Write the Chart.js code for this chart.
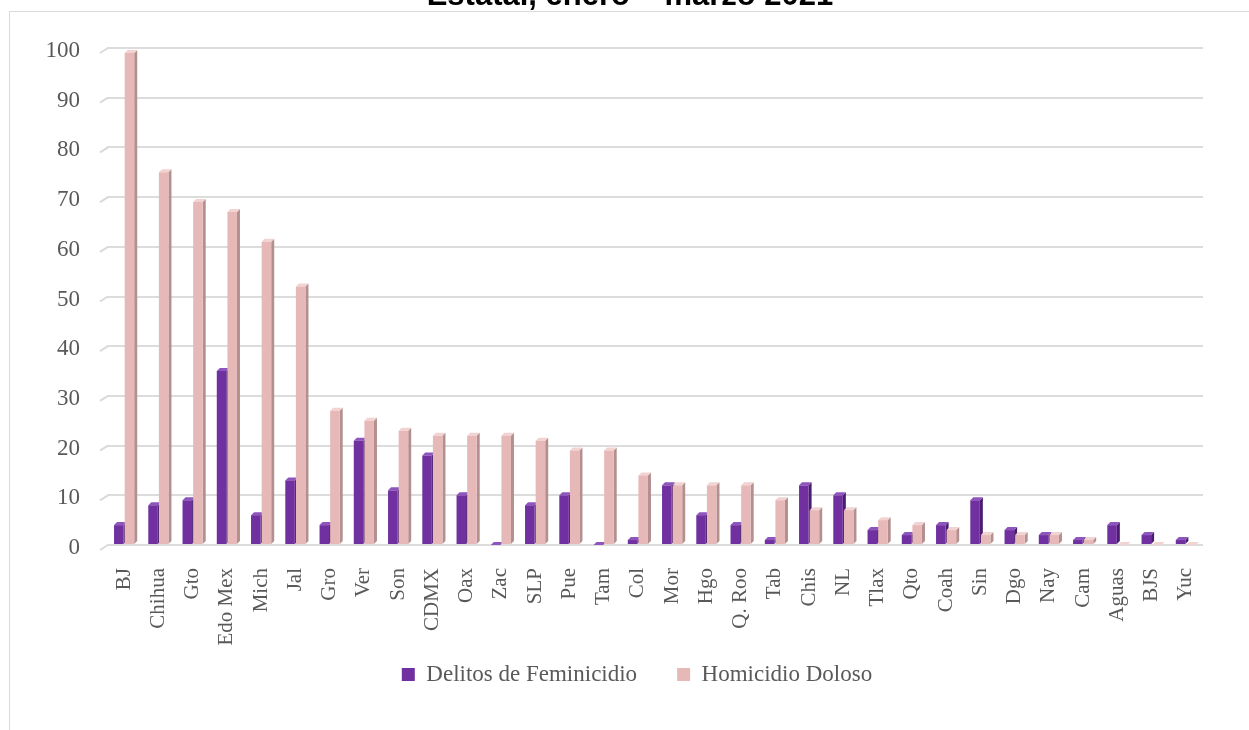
<!DOCTYPE html>
<html>
<head>
<meta charset="utf-8">
<script src="https://cdn.jsdelivr.net/npm/chart.js@4.4.1/dist/chart.umd.min.js"></script>
<style>
  html, body { margin: 0; padding: 0; background: #ffffff; overflow: hidden; }
  #wrap { position: relative; width: 1249px; height: 730px; }
  #frame { position: absolute; left: 9px; top: 11px; right: -5px; bottom: -5px;
           border-left: 1px solid #d9d9d9; border-top: 1px solid #d9d9d9; }
  #title { position: absolute; left: 0; top: -20px; width: 1260px; text-align: center;
           font: bold 31px "Liberation Sans", Arial, sans-serif; line-height: 30px; color: #000; }
  #c { position: absolute; left: 0; top: 0; }
</style>
</head>
<body>
<div id="wrap">
  <div id="frame"></div>
  <canvas id="c" width="1249" height="730"></canvas>
  <div id="title">Estatal, enero – marzo 2021</div>
</div>
<script>
const categories = ["BJ","Chihua","Gto","Edo Mex","Mich","Jal","Gro","Ver","Son","CDMX","Oax","Zac","SLP","Pue","Tam","Col","Mor","Hgo","Q. Roo","Tab","Chis","NL","Tlax","Qto","Coah","Sin","Dgo","Nay","Cam","Aguas","BJS","Yuc"];
const feminicidio = [4,8,9,35,6,13,4,21,11,18,10,0,8,10,0,1,12,6,4,1,12,10,3,2,4,9,3,2,1,4,2,1];
const homicidio = [99,75,69,67,61,52,27,25,23,22,22,22,21,19,19,14,12,12,12,9,7,7,5,4,3,2,2,2,1,0,0,0];
const yTicks = [0,10,20,30,40,50,60,70,80,90,100];
const seriesNames = ["Delitos de Feminicidio","Homicidio Doloso"];

const faceColors = [
  {side: "#4b1d70", top: "#8d55bd"},
  {side: "#b38f8e", top: "#f1d3d2"}
];

const bar3d = {
  id: "bar3d",
  beforeDatasetsDraw(chart) {
    const ctx = chart.ctx;
    const d = 3;
    const ys = chart.scales.y;
    const left = chart.chartArea.left;
    ctx.save();
    ctx.strokeStyle = "#d9d9d9";
    ctx.lineWidth = 2;
    yTicks.forEach(v => {
      const py = ys.getPixelForValue(v);
      ctx.beginPath();
      ctx.moveTo(left - 7, py + 5);
      ctx.lineTo(left + 1, py);
      ctx.stroke();
    });
    chart.data.datasets.forEach((ds, di) => {
      const meta = chart.getDatasetMeta(di);
      meta.data.forEach(el => {
        const p = el.getProps(["x","y","base","width"], true);
        const xl = p.x - p.width / 2, xr = p.x + p.width / 2;
        const top = Math.min(p.y, p.base), bot = Math.max(p.y, p.base);
        ctx.fillStyle = faceColors[di].side;
        ctx.beginPath();
        ctx.moveTo(xr, top); ctx.lineTo(xr + d, top - d); ctx.lineTo(xr + d, bot - d); ctx.lineTo(xr, bot);
        ctx.closePath(); ctx.fill();
        ctx.fillStyle = faceColors[di].top;
        ctx.beginPath();
        ctx.moveTo(xl, top); ctx.lineTo(xl + d, top - d); ctx.lineTo(xr + d, top - d); ctx.lineTo(xr, top);
        ctx.closePath(); ctx.fill();
      });
    });
    ctx.restore();
  }
};

const serif = "'Liberation Serif', 'Times New Roman', serif";
const noClip = function () { return undefined; };

new Chart(document.getElementById("c"), {
  type: "bar",
  data: {
    labels: categories,
    datasets: [
      {label: seriesNames[0], data: feminicidio, backgroundColor: "#7030a0", borderWidth: 0,
       categoryPercentage: 0.62, barPercentage: 0.9},
      {label: seriesNames[1], data: homicidio, backgroundColor: "#e6b9b8", borderWidth: 0,
       categoryPercentage: 0.62, barPercentage: 0.9}
    ]
  },
  options: {
    responsive: false,
    animation: false,
    layout: {padding: {top: 48, left: 71, right: 46, bottom: 34}},
    plugins: {
      title: {display: false},
      tooltip: {enabled: false},
      legend: {
        position: "bottom",
        labels: {
          boxWidth: 13, boxHeight: 13, padding: 40,
          color: "#595959",
          font: {family: serif, size: 23}
        }
      }
    },
    scales: {
      x: {
        grid: {display: false, drawTicks: false},
        border: {display: false},
        ticks: {color: "#595959", font: {family: serif, size: 21}, maxRotation: 90, minRotation: 90, padding: 23, autoSkip: false},
        afterFit(scale) { scale.height = 78; scale._computeLabelArea = noClip; }
      },
      y: {
        min: 0, max: 100,
        afterBuildTicks(scale) { scale.ticks = yTicks.map(v => ({value: v})); },
        grid: {color: "#dcdcdc", lineWidth: 2, drawTicks: false},
        border: {display: false},
        ticks: {color: "#595959", font: {family: serif, size: 23}, padding: 27, labelOffset: 3},
        afterFit(scale) { scale.width = 36; scale._computeLabelArea = noClip; }
      }
    }
  },
  plugins: [bar3d]
});
</script>
</body>
</html>
